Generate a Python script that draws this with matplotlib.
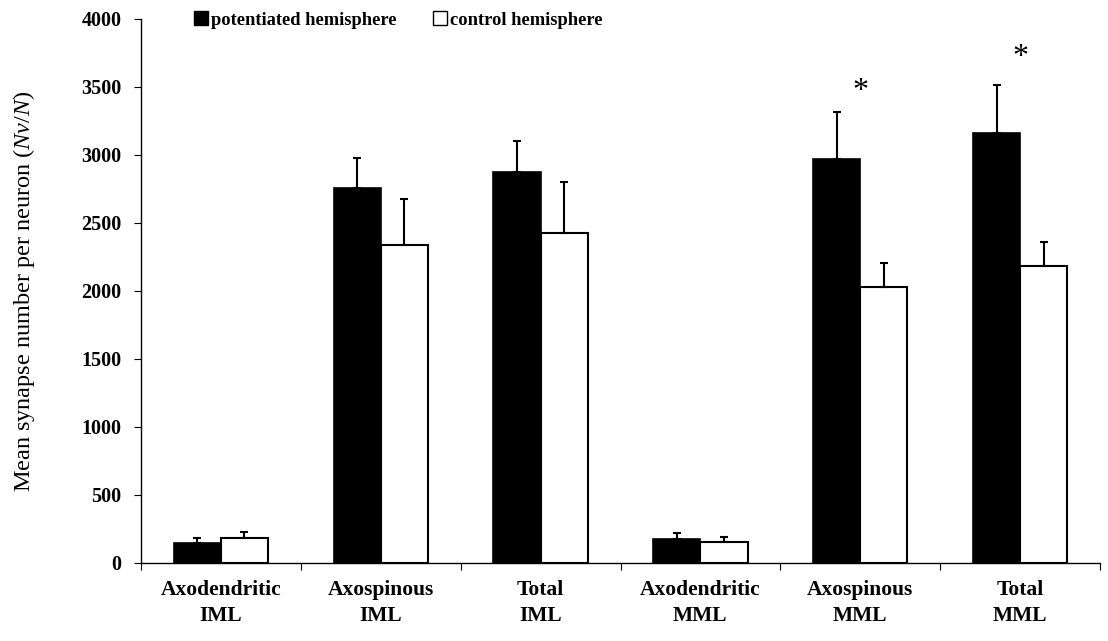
import matplotlib
matplotlib.use("Agg")
import matplotlib.pyplot as plt
import numpy as np
from matplotlib.patches import Patch

plt.rcParams['font.family'] = ['Liberation Serif', 'DejaVu Serif']
plt.rcParams['mathtext.fontset'] = 'custom'
plt.rcParams['mathtext.rm'] = 'Liberation Serif'
plt.rcParams['mathtext.it'] = 'Liberation Serif:italic'

# data
categories = ["Axodendritic\nIML", "Axospinous\nIML", "Total\nIML",
              "Axodendritic\nMML", "Axospinous\nMML", "Total\nMML"]
potentiated = [145, 2756, 2876, 176, 2972, 3165]
potentiated_err = [37, 220, 230, 42, 342, 350]
control = [187, 2337, 2428, 155, 2029, 2184]
control_err = [43, 340, 370, 39, 180, 178]
star_idx = [4, 5]
star_y = [3470, 3720]
yticks = [0, 500, 1000, 1500, 2000, 2500, 3000, 3500, 4000]

fig = plt.figure(figsize=(11.08, 6.41), dpi=100)
ax = fig.add_axes([141 / 1108, 1 - 563 / 641, (1100 - 141) / 1108, (563 - 19) / 641])

x = np.arange(len(categories)) + 0.5
w = 0.295
ekw = dict(ecolor="black", elinewidth=1.5, capsize=3, capthick=1.5)
ax.bar(x - w / 2, potentiated, w, color="black", edgecolor="black", linewidth=1.2,
       yerr=[np.zeros(len(x)), potentiated_err], error_kw=ekw)
ax.bar(x + w / 2, control, w, color="white", edgecolor="black", linewidth=1.5,
       yerr=[np.zeros(len(x)), control_err], error_kw=ekw)

for i, yy in zip(star_idx, star_y):
    ax.text(x[i], yy, "*", ha="center", va="center", fontsize=23)

ax.set_xlim(0, len(categories))
ax.set_ylim(0, 4000)
ax.set_yticks(yticks)
ax.set_yticklabels([str(t) for t in yticks], fontsize=14.5, fontweight="bold")
ax.set_xticks(np.arange(len(categories) + 1))
ax.set_xticklabels([])
ax.set_xticks(x, minor=True)
ax.set_xticklabels(categories, minor=True, fontsize=15.5, fontweight="bold", linespacing=1.45)
ax.tick_params(axis="x", which="minor", length=0, pad=12)
ax.tick_params(axis="x", which="major", length=5, direction="out")
ax.tick_params(axis="y", length=5, direction="out", pad=9)

for s in ["top", "right"]:
    ax.spines[s].set_visible(False)
ax.spines["left"].set_linewidth(1.0)
ax.spines["bottom"].set_linewidth(1.0)

ax.set_ylabel("Mean synapse number per neuron ($\\it{Nv/N}$)", fontsize=17.5, labelpad=32)

handles = [Patch(facecolor="black", edgecolor="black", label="potentiated hemisphere"),
           Patch(facecolor="white", edgecolor="black", label="control hemisphere")]
fig.legend(handles=handles, loc="center left", bbox_to_anchor=(194 / 1108, 1 - 20 / 641), ncol=2,
           frameon=False, handlelength=0.75, handleheight=0.75, handletextpad=0.15, columnspacing=2.0,
           borderpad=0, borderaxespad=0,
           prop=dict(family="Liberation Serif", weight="bold", size=13.3))

fig.savefig("out.png", dpi=100)
